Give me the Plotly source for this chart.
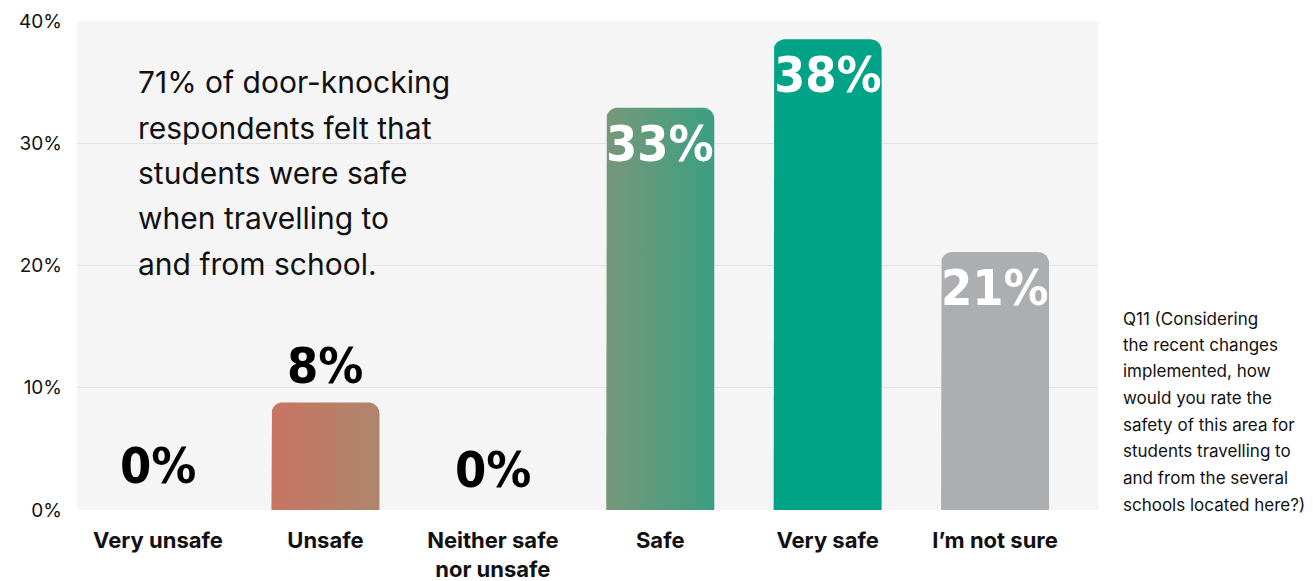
import plotly.graph_objects as go
import math

categories = ["Very unsafe", "Unsafe", "Neither safe<br>nor unsafe", "Safe", "Very safe", "I’m not sure"]
values = [0, 8.8, 0, 32.9, 38.5, 21.1]
value_labels = ["0%", "8%", "0%", "33%", "38%", "21%"]
left_colors = ["#c97462", "#c97462", "#c97462", "#77977a", "#00a386", "#adaeb2"]
right_colors = ["#ae866d", "#ae866d", "#ae866d", "#3c9f82", "#00a386", "#adaeb2"]
label_inside = [False, False, False, True, True, True]
y_ticks = [0, 10, 20, 30, 40]
callout_lines = ["71% of door-knocking", "respondents felt that", "students were safe",
                 "when travelling to", "and from school."]
note_lines = ["Q11 (Considering", "the recent changes", "implemented, how", "would you rate the",
              "safety of this area for", "students travelling to", "and from the several",
              "schools located here?)"]

OFF = 8  # body margin of the page
W, H = 1313 - OFF, 581 - OFF
PL, PR, PT, PB = 77, 1098, 21, 510  # plot area in page pixels
ML, MT = PL - OFF, PT - OFF
MR = W - (PR - OFF)
MB = H - (PB - OFF)
XR = [-0.484, 5.615]
YR = [0, 40]
px_x = (PR - PL) / (XR[1] - XR[0])
px_y = (PB - PT) / (YR[1] - YR[0])
bar_w = 0.645
rad = 11

fig = go.Figure()

def rounded_bar(c, v):
    x0, x1 = c - bar_w / 2, c + bar_w / 2
    rx = rad / px_x
    ry = min(rad / px_y, v)
    xs, ys = [x0], [0]
    n = 10
    for k in range(n + 1):
        a = math.pi - k * (math.pi / 2) / n
        xs.append(x0 + rx + rx * math.cos(a))
        ys.append(v - ry + ry * math.sin(a))
    for k in range(n + 1):
        a = math.pi / 2 - k * (math.pi / 2) / n
        xs.append(x1 - rx + rx * math.cos(a))
        ys.append(v - ry + ry * math.sin(a))
    xs.append(x1); ys.append(0)
    xs.append(x0); ys.append(0)
    return xs, ys

for i, v in enumerate(values):
    if v <= 0:
        continue
    xs, ys = rounded_bar(i, v)
    fig.add_trace(go.Scatter(
        x=xs, y=ys, mode="lines", fill="toself",
        line=dict(width=0),
        fillgradient=dict(type="horizontal",
                          colorscale=[[0, left_colors[i]], [1, right_colors[i]]]),
        hoverinfo="skip", showlegend=False))

label_font = "DejaVu Sans Condensed, DejaVu Sans, sans-serif"
for i, (v, t) in enumerate(zip(values, value_labels)):
    if label_inside[i]:
        fig.add_annotation(x=i, y=v, text="<b>" + t + "</b>", showarrow=False,
                           yanchor="top", yshift=-5,
                           font=dict(family=label_font, size=50, color="white"))
    else:
        fig.add_annotation(x=i, y=v, text="<b>" + t + "</b>", showarrow=False,
                           yanchor="bottom", yshift=5 if v > 0 else (9 if i == 2 else 13),
                           font=dict(family=label_font, size=50, color="black"))

def px_to_paper_x(px):
    return (px - PL) / (PR - PL)

def px_to_paper_y(py):
    return (PB - py) / (PB - PT)

callout_y = [82, 128, 173, 218, 264]
for line, yy in zip(callout_lines, callout_y):
    fig.add_annotation(xref="paper", yref="paper", x=px_to_paper_x(136),
                       y=px_to_paper_y(yy), text=line, showarrow=False,
                       xanchor="left", yanchor="middle",
                       font=dict(family="Inter", size=30, color="#111111"))

note_y = [319, 345, 371, 398, 425, 451, 478, 505]
for line, yy in zip(note_lines, note_y):
    fig.add_annotation(xref="paper", yref="paper", x=px_to_paper_x(1121),
                       y=px_to_paper_y(yy), text=line, showarrow=False,
                       xanchor="left", yanchor="middle",
                       font=dict(family="Inter", size=17, color="#111111"))

fig.update_layout(
    width=W, height=H,
    margin=dict(l=ML, r=MR, t=MT, b=MB, autoexpand=False),
    paper_bgcolor="white", plot_bgcolor="#f5f5f5",
    font=dict(family="Inter", color="#111111"),
    showlegend=False,
)
fig.update_xaxes(range=XR, tickvals=list(range(len(categories))), ticktext=["<b>" + c + "</b>" for c in categories],
                 showgrid=False, zeroline=False, showline=False, ticks="", automargin=False,
                 tickfont=dict(family="Inter", size=22, color="#111111"), ticklabelstandoff=15,
                 fixedrange=True)
fig.update_yaxes(range=YR, tickvals=y_ticks, ticktext=[f"{t}%" for t in y_ticks],
                 showgrid=True, gridcolor="#e3e3e3", gridwidth=1, zeroline=False, automargin=False,
                 showline=False, ticks="", tickfont=dict(family="Inter", size=19, color="#111111"),
                 ticklabelstandoff=14, fixedrange=True)

fig.write_html("out.html")
